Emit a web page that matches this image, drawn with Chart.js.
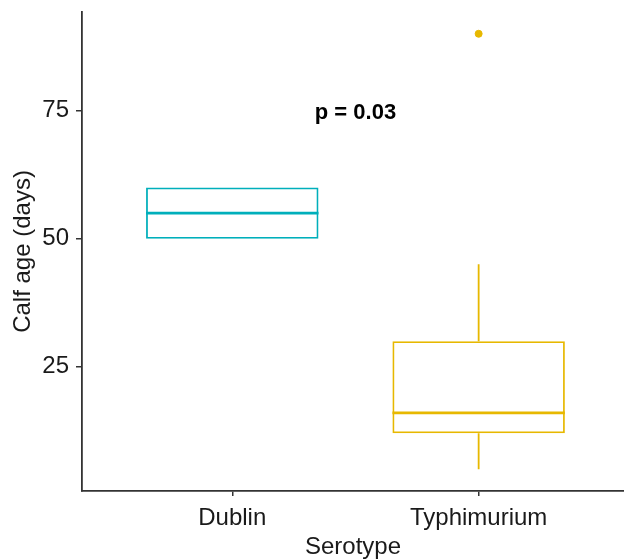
<!DOCTYPE html>
<html>
<head>
<meta charset="utf-8">
<script src="https://cdn.jsdelivr.net/npm/chart.js@4"></script>
<style>
  html, body { margin: 0; padding: 0; background: #fff; }
  #chart { display: block; }
</style>
</head>
<body>
<canvas id="chart" width="624" height="560"></canvas>
<script>
// ── Data ──────────────────────────────────────────────────────────────────
const categories  = ['Dublin', 'Typhimurium'];
const q1          = [50, 12];
const medians     = [55, 16];
const q3          = [60, 30];
const whiskerLow  = [50, 5];
const whiskerHigh = [60, 45];
const outliers    = [[], [90]];
const yTicks      = [25, 50, 75];
const yRange      = [0.75, 94.25];
const xRange      = [0.39, 2.59];
const pLabel      = 'p = 0.03';
const pLabelY     = 74.5;

// ── Style ─────────────────────────────────────────────────────────────────
const colors   = ['#00AFBB', '#E7B800'];
const boxWidth = 0.7;
const axisCol  = '#333333';
const textCol  = '#1a1a1a';
Chart.defaults.font.family = "'Liberation Sans', Arial, sans-serif";

// ── Datasets ──────────────────────────────────────────────────────────────
const xOf = i => i + 1;

const datasets = [{
  type: 'bar',
  data: categories.map((c, i) => ({ x: xOf(i), y: [q1[i], q3[i]] })),
  backgroundColor: 'rgba(255,255,255,0)',
  borderColor: colors,
  borderWidth: 1.8,
  borderSkipped: false,
  barPercentage: boxWidth,
  categoryPercentage: 1,
  order: 2
}];

categories.forEach((c, i) => {
  // median
  datasets.push({
    type: 'line',
    data: [
      { x: xOf(i) - boxWidth / 2, y: medians[i] },
      { x: xOf(i) + boxWidth / 2, y: medians[i] }
    ],
    borderColor: colors[i],
    borderWidth: 2.8,
    pointRadius: 0,
    order: 1
  });
  // whiskers
  datasets.push({
    type: 'line',
    data: [
      { x: xOf(i), y: whiskerLow[i] },
      { x: xOf(i), y: q1[i] },
      { x: xOf(i), y: null },
      { x: xOf(i), y: q3[i] },
      { x: xOf(i), y: whiskerHigh[i] }
    ],
    borderColor: colors[i],
    borderWidth: 1.8,
    pointRadius: 0,
    spanGaps: false,
    order: 1
  });
  // outliers
  datasets.push({
    type: 'scatter',
    data: outliers[i].map(v => ({ x: xOf(i), y: v })),
    backgroundColor: colors[i],
    borderColor: colors[i],
    pointRadius: 3.5,
    order: 0
  });
});

// ── p-value label ─────────────────────────────────────────────────────────
const pLabelPlugin = {
  id: 'pLabel',
  afterDatasetsDraw(chart) {
    const { ctx, scales: { x, y } } = chart;
    ctx.save();
    ctx.font = "bold 22px 'Liberation Sans', Arial, sans-serif";
    ctx.fillStyle = '#000';
    ctx.textAlign = 'center';
    ctx.textBaseline = 'middle';
    ctx.fillText(pLabel, x.getPixelForValue((xOf(0) + xOf(categories.length - 1)) / 2), y.getPixelForValue(pLabelY));
    ctx.restore();
  }
};

// ── Chart ─────────────────────────────────────────────────────────────────
new Chart(document.getElementById('chart'), {
  type: 'bar',
  data: { datasets },
  plugins: [pLabelPlugin],
  options: {
    responsive: false,
    animation: false,
    devicePixelRatio: 1,
    layout: { autoPadding: false, padding: { top: 12, right: 0, left: 0, bottom: 0 } },
    plugins: { legend: { display: false }, tooltip: { enabled: false } },
    scales: {
      x: {
        type: 'linear',
        min: xRange[0],
        max: xRange[1],
        offset: false,
        afterBuildTicks: axis => { axis.ticks = categories.map((c, i) => ({ value: xOf(i) })); },
        afterFit: axis => { axis.height = 69; axis.paddingLeft = 0; axis.paddingRight = 0; },
        ticks: {
          callback: (v, i) => categories[i],
          autoSkip: false,
          maxRotation: 0,
          color: textCol,
          font: { size: 24 },
          padding: 8
        },
        grid: { display: true, offset: false, drawOnChartArea: false, drawTicks: true, tickLength: 5, color: axisCol, lineWidth: 1.5 },
        border: { display: true, color: axisCol, width: 1.8 },
        title: { display: true, text: 'Serotype', color: textCol, font: { size: 24 }, padding: { top: 0, bottom: -2 } }
      },
      y: {
        type: 'linear',
        min: yRange[0],
        max: yRange[1],
        afterBuildTicks: axis => { axis.ticks = yTicks.map(v => ({ value: v })); },
        afterFit: axis => { axis.width = 82; axis.paddingTop = 0; axis.paddingBottom = 0; },
        ticks: { color: textCol, font: { size: 24 }, padding: 7 },
        grid: { display: true, drawOnChartArea: false, drawTicks: true, tickLength: 6, color: axisCol, lineWidth: 1.5 },
        border: { display: true, color: axisCol, width: 1.8 },
        title: { display: true, text: 'Calf age (days)', color: textCol, font: { size: 24 }, padding: { top: 9, bottom: 0 } }
      }
    }
  }
});
</script>
</body>
</html>
